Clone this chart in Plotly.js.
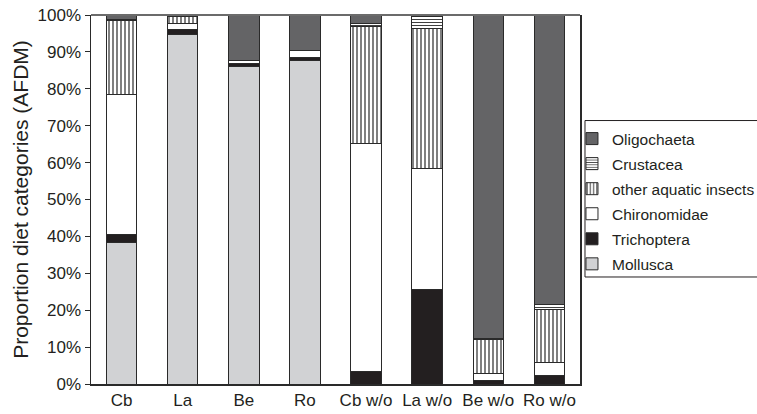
<!DOCTYPE html>
<html>
<head>
<meta charset="utf-8">
<script src="https://cdn.plot.ly/plotly-3.0.1.min.js"></script>
<style>html,body{margin:0;padding:0;background:#fff;}#chart{width:757px;height:414px;}</style>
</head>
<body>
<div id="chart"></div>
<script>
const categories = ['Cb', 'La', 'Be', 'Ro', 'Cb w/o', 'La w/o', 'Be w/o', 'Ro w/o'];
const mollusca    = [38.3, 94.6, 86.0, 87.6, 0, 0, 0, 0];
const trichoptera = [2.3, 1.5, 0.9, 0.9, 3.3, 25.5, 0.9, 2.3];
const chironomidae = [37.9, 1.5, 0.9, 1.9, 61.9, 33.0, 1.9, 3.6];
const otherInsects = [20.0, 2.0, 0, 0, 31.8, 37.9, 9.3, 14.3];
const crustacea   = [0.2, 0.2, 0, 0, 0.6, 3.3, 0.3, 1.4];
const oligochaeta = [1.3, 0.2, 12.2, 9.6, 2.4, 0.3, 87.6, 78.4];
const yTicks = [0, 10, 20, 30, 40, 50, 60, 70, 80, 90, 100];

const edge = {color: '#2a2a2a', width: 1};
function bar(name, vals, rank, marker) {
  return {type: 'bar', name: name, legendgroup: name, legendrank: rank, x: categories, y: vals,
    marker: Object.assign({line: edge}, marker), hoverinfo: 'skip'};
}
const data = [
  bar('Mollusca', mollusca, 6, {color: '#d1d2d4'}),
  bar('Trichoptera', trichoptera, 5, {color: '#231f20'}),
  bar('Chironomidae', chironomidae, 4, {color: '#ffffff'}),
  bar('other aquatic insects', otherInsects, 3, {color: '#ffffff',
    pattern: {shape: '|', fgcolor: '#2a2a2a', bgcolor: '#ffffff', size: 4, solidity: 0.3, fillmode: 'replace'}}),
  bar('Crustacea', crustacea, 2, {color: '#ffffff',
    pattern: {shape: '-', fgcolor: '#2a2a2a', bgcolor: '#ffffff', size: 3, solidity: 0.3, fillmode: 'replace'}}),
  bar('Oligochaeta', oligochaeta, 1, {color: '#646466'})
];

const FONT = 'Liberation Sans, Arial, sans-serif';
const layout = {
  width: 757, height: 414,
  margin: {l: 91, r: 177, t: 15, b: 30, pad: 0, autoexpand: false},
  paper_bgcolor: '#ffffff', plot_bgcolor: '#ffffff',
  barmode: 'stack', bargap: 0.5,
  font: {family: FONT, color: '#231f20'},
  showlegend: true,
  legend: {traceorder: 'grouped', tracegroupgap: 1.9, x: 0.9836, xanchor: 'left', y: 0.71, yanchor: 'top',
    bgcolor: 'rgba(0,0,0,0)', borderwidth: 0, font: {family: FONT, size: 15.5, color: '#231f20'},
    itemclick: false},
  xaxis: {type: 'category', categoryorder: 'array', categoryarray: categories,
    showline: true, linecolor: '#2a2a2a', linewidth: 2, ticks: '', showgrid: false,
    tickfont: {family: FONT, size: 17, color: '#231f20'}, fixedrange: true},
  yaxis: {range: [0, 100], tickvals: yTicks, ticktext: yTicks.map(v => v + '%'),
    showline: true, linecolor: '#2a2a2a', linewidth: 1.5, mirror: true,
    ticks: 'outside', ticklen: 5, tickcolor: '#2a2a2a', showgrid: false, zeroline: false,
    tickfont: {family: FONT, size: 17, color: '#231f20'},
    title: {text: 'Proportion diet categories (AFDM)', font: {family: FONT, size: 21, color: '#231f20'}, standoff: 3},
    fixedrange: true},
  shapes: [
    {type: 'line', xref: 'paper', yref: 'paper', x0: 0, x1: 1, y0: 1, y1: 1, line: {color: '#6b6b6b', width: 2}},
    {type: 'rect', xref: 'paper', yref: 'paper', x0: 1.0102, x1: 1.4, y0: 0.29, y1: 0.714, line: {color: '#231f20', width: 1}}
  ]
};
Plotly.newPlot('chart', data, layout, {staticPlot: true, displayModeBar: false});
</script>
</body>
</html>
